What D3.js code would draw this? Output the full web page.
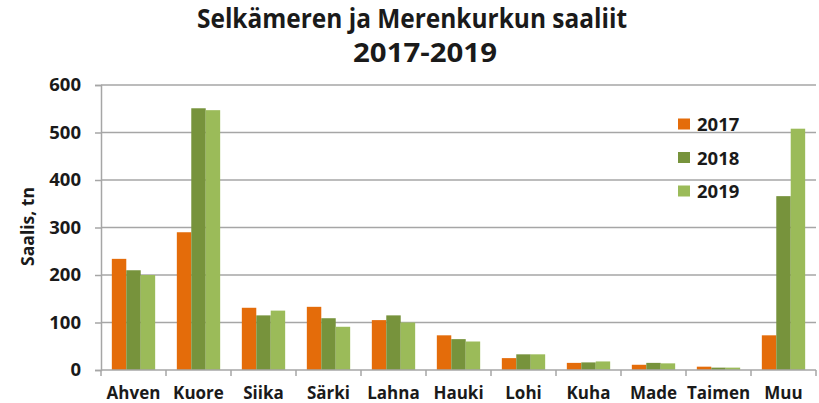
<!DOCTYPE html>
<html>
<head>
<meta charset="utf-8">
<script src="https://cdn.jsdelivr.net/npm/d3@7"></script>
<style>
  html, body { margin: 0; padding: 0; background: #ffffff; }
  svg { display: block; }
  text { font-family: "Open Sans", "DejaVu Sans", sans-serif; font-weight: 700; fill: #1a1a1a; }
</style>
</head>
<body>
<svg id="chart" width="819" height="403"></svg>
<script>
// Catch by species, tonnes
const categories = ["Ahven", "Kuore", "Siika", "Särki", "Lahna", "Hauki", "Lohi", "Kuha", "Made", "Taimen", "Muu"];
const years = ["2017", "2018", "2019"];
const values2017 = [234, 290, 131, 133, 105, 73, 25, 15, 11, 7, 73];
const values2018 = [210, 551, 115, 109, 115, 65, 33, 16, 15, 5, 366];
const values2019 = [200, 547, 125, 91, 100, 60, 33, 18, 14, 5, 508];
const yTicks = [0, 100, 200, 300, 400, 500, 600];
const titleLines = ["Selkämeren ja Merenkurkun saaliit", "2017-2019"];
const yAxisTitle = "Saalis, tn";
const colors = ["#E46C0A", "#77933C", "#9BBB59"];

const series = [values2017, values2018, values2019];

const svg = d3.select("#chart");
const margin = { left: 101, right: 3, top: 85, bottom: 33 };
const W = 819, H = 403;
const x0 = margin.left, x1 = W - margin.right;
const yTop = margin.top, yBot = H - margin.bottom;

const x = d3.scaleBand().domain(categories).range([x0, x1])
  .paddingInner(1 / 3).paddingOuter(1 / 6);
const xs = d3.scaleBand().domain(years).range([0, x.bandwidth()]);
const y = d3.scaleLinear().domain([0, 600]).range([yBot, yTop]);

const gridColor = "#a6a6a6";

// Horizontal gridlines
svg.append("g").selectAll("line").data(yTicks.filter(d => d > 0)).join("line")
  .attr("x1", x0).attr("x2", x1)
  .attr("y1", d => y(d)).attr("y2", d => y(d))
  .attr("stroke", gridColor).attr("stroke-width", 1.5);

// Bars
const groups = svg.append("g").selectAll("g").data(categories).join("g")
  .attr("transform", c => `translate(${x(c)},0)`);
groups.selectAll("rect")
  .data((c, i) => years.map((yr, k) => ({ yr, k, v: series[k][i] })))
  .join("rect")
  .attr("x", d => xs(d.yr))
  .attr("width", xs.bandwidth())
  .attr("y", d => y(d.v))
  .attr("height", d => y(0) - y(d.v))
  .attr("fill", d => colors[d.k]);

// Y axis
const yAxis = d3.axisLeft(y).tickValues(yTicks).tickSize(6).tickPadding(14);
const gy = svg.append("g").attr("transform", `translate(${x0},0)`).call(yAxis);
gy.selectAll("path.domain").attr("stroke", gridColor).attr("stroke-width", 1.5);
gy.selectAll(".tick line").attr("stroke", gridColor).attr("stroke-width", 1.5);
gy.selectAll(".tick text").attr("font-size", 18.5).attr("fill", "#1a1a1a")
  .style("font-family", "'Open Sans', sans-serif").style("font-weight", 700);

// X axis with ticks at category boundaries
const gx = svg.append("g").attr("transform", `translate(0,${yBot})`);
gx.append("line").attr("x1", x0).attr("x2", x1).attr("y1", 0).attr("y2", 0)
  .attr("stroke", gridColor).attr("stroke-width", 1.5);
const step = x.step();
const boundaries = categories.map((c, i) => x0 + i * step).concat([x1]);
gx.selectAll("line.bt").data(boundaries).join("line").attr("class", "bt")
  .attr("x1", d => d).attr("x2", d => d).attr("y1", 0).attr("y2", 6)
  .attr("stroke", gridColor).attr("stroke-width", 1.5);
gx.selectAll("text").data(categories).join("text")
  .attr("x", c => x(c) + x.bandwidth() / 2)
  .attr("y", 28.5)
  .attr("text-anchor", "middle")
  .attr("font-size", 17)
  .text(c => c);

// Y axis title
svg.append("text")
  .attr("transform", `translate(34,${(yTop + yBot) / 2 - 1}) rotate(-90)`)
  .attr("text-anchor", "middle")
  .attr("font-size", 17.5)
  .text(yAxisTitle);

// Title
svg.append("text").attr("x", 197).attr("y", 28)
  .attr("font-size", 26).attr("textLength", 430).attr("lengthAdjust", "spacingAndGlyphs")
  .text(titleLines[0]);
svg.append("text").attr("x", 353).attr("y", 62)
  .attr("font-size", 27).attr("textLength", 144).attr("lengthAdjust", "spacingAndGlyphs")
  .text(titleLines[1]);

// Legend
const legend = svg.append("g").selectAll("g").data(years).join("g")
  .attr("transform", (d, i) => `translate(678,${124 + i * 33.5})`);
legend.append("rect").attr("x", 0).attr("y", -5.5).attr("width", 12).attr("height", 11)
  .attr("fill", (d, i) => colors[i]);
legend.append("text").attr("x", 19).attr("y", 7).attr("font-size", 18.5).text(d => d);
</script>
</body>
</html>
